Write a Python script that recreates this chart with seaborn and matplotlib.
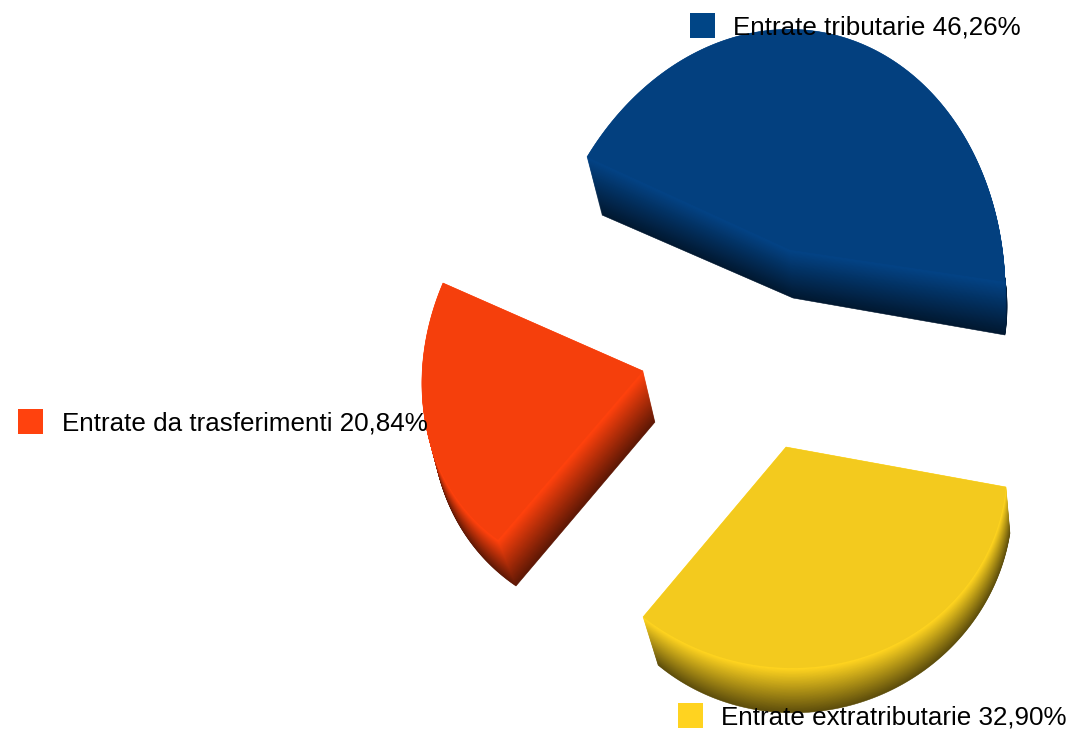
import numpy as np
import matplotlib
matplotlib.use("Agg")
import matplotlib.pyplot as plt
from matplotlib.colors import to_rgb
from matplotlib.patches import Rectangle, Polygon
import seaborn as sns

# ---- data ----
categories = ["Entrate tributarie", "Entrate extratributarie", "Entrate da trasferimenti"]
values = [46.26, 32.90, 20.84]
value_labels = ["46,26%", "32,90%", "20,84%"]
legend_colors = ["#004586", "#ffd320", "#ff420e"]
face_colors = ["#03407f", "#f3ca1e", "#f53f0c"]

# ---- geometry of the projected, exploded slices (pixel space) ----
apex = [(790, 250), (786, 447), (643, 371)]
edge_a = [(215, 32), (220, 40), (-200, -88)]
edge_b = [(-203, -93), (-143, 170), (-145, 169)]
persp_a = [0.036, 0.0066, -0.078]
persp_b = [0.02, -0.0565, 0.07]
depth_apex = [(3, 48), (18, 50), (12, 51)]
depth_a = [(0, 53), (4, 46), (6, 50)]
depth_b = [(15, 58), (15, 48), (18, 46)]
legend_box = [(690, 13), (678, 703), (18, 409)]
label_pos = [(733, 27.5), (721, 717.5), (62, 423.5)]

sns.set_theme(style="white")
plt.rcParams["font.family"] = ["Liberation Sans", "DejaVu Sans"]
palette = sns.color_palette(face_colors)

fig = plt.figure(figsize=(10.74, 7.34), dpi=100, facecolor="white")
ax = fig.add_axes([0, 0, 1, 1])
ax.set_xlim(0, 1074)
ax.set_ylim(734, 0)
ax.axis("off")


def outline(value, e1, e2, pa, pb, n=160):
    """Circular arc of the value's share, under a perspective fixing the two radii ends."""
    sweep = np.deg2rad(value * 3.6)
    t = np.linspace(0, sweep, n)
    u = np.sin(sweep - t) / np.sin(sweep)
    v = np.sin(t) / np.sin(sweep)
    w = 1 + pa * u + pb * v
    up = (1 + pa) * u / w
    vp = (1 + pb) * v / w
    arc = np.outer(up, e1) + np.outer(vp, e2)
    return np.vstack([[0, 0], arc])


for i, val in enumerate(values):
    c = np.array(apex[i], float)
    pts = outline(val, np.array(edge_a[i], float), np.array(edge_b[i], float),
                  persp_a[i], persp_b[i])
    # depth varies affinely over the slice plane
    M = np.array([edge_a[i], edge_b[i]], float)
    d0 = np.array(depth_apex[i], float)
    D = np.array([np.array(depth_a[i]) - d0, np.array(depth_b[i]) - d0], float)
    coef = np.linalg.solve(M, D)
    depth = d0 + pts @ coef
    base = np.array(palette[i])
    nb = 60
    for f in np.linspace(1, 0, nb):
        shade = 0.38 + (1.06 - 0.38) * (1 - f)
        col = np.clip(base * shade, 0, 1)
        ax.add_patch(Polygon(c + pts + f * depth, closed=True, facecolor=col,
                             edgecolor=col, linewidth=0.4, zorder=2 + i))
    ax.add_patch(Polygon(c + pts, closed=True, facecolor=base, edgecolor="none", zorder=2 + i))

for i, name in enumerate(categories):
    x, y = legend_box[i]
    ax.add_patch(Rectangle((x, y), 25, 25, facecolor=to_rgb(legend_colors[i]),
                           edgecolor="none", zorder=10))
    tx, ty = label_pos[i]
    ax.text(tx, ty, f"{name} {value_labels[i]}", fontsize=18.7, color="black",
            va="center", ha="left", zorder=11)

fig.savefig("out.png", dpi=100, facecolor="white")
